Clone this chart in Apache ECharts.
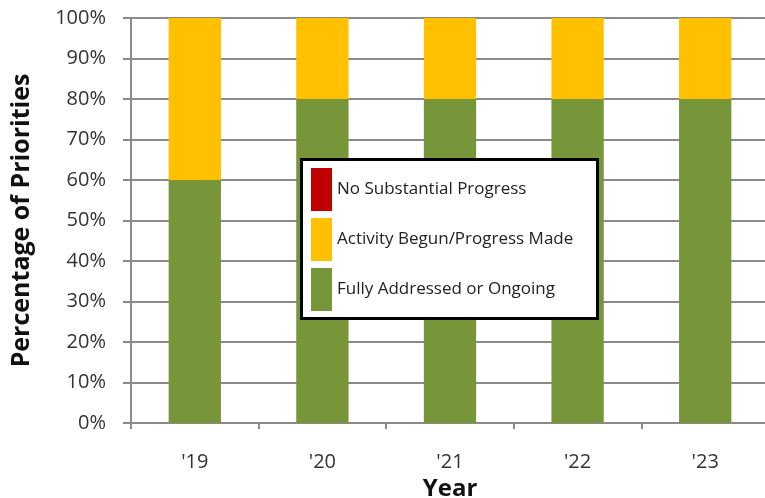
<!DOCTYPE html>
<html>
<head>
<meta charset="utf-8">
<script src="https://cdn.jsdelivr.net/npm/echarts@6/dist/echarts.min.js"></script>
<style>
  html, body { margin: 0; padding: 0; background: #fff; }
  #chart { width: 765px; height: 498px; }
</style>
</head>
<body>
<div id="chart"></div>
<script>
// Share of priorities by status for each year
const years = ["'19", "'20", "'21", "'22", "'23"];
const fullyAddressed = [60, 80, 80, 80, 80];
const activityBegun = [40, 20, 20, 20, 20];
const noProgress = [0, 0, 0, 0, 0];
const yTicks = [0, 10, 20, 30, 40, 50, 60, 70, 80, 90, 100];

const FONT = '"Open Sans", "Liberation Sans", sans-serif';
const chart = echarts.init(document.getElementById('chart'), null, { renderer: 'canvas' });

chart.setOption({
  animation: false,
  backgroundColor: '#ffffff',
  grid: {
    left: 131, right: -4, top: 18, bottom: 75,
    containLabel: false, outerBoundsMode: 'none'
  },
  graphic: [{
    type: 'rect',
    left: 300, top: 158,
    shape: { width: 296, height: 159 },
    style: { fill: '#ffffff', stroke: '#000000', lineWidth: 3 },
    z: 10
  }],
  legend: {
    orient: 'vertical',
    left: 306, top: 163,
    icon: 'rect',
    itemWidth: 21, itemHeight: 43, itemGap: 7,
    data: ['No Substantial Progress', 'Activity Begun/Progress Made', 'Fully Addressed or Ongoing'],
    textStyle: { fontFamily: FONT, fontSize: 17, color: '#222' },
    z: 20
  },
  xAxis: {
    type: 'category',
    data: years,
    name: 'Year',
    nameLocation: 'middle',
    nameGap: 47,
    nameTextStyle: { fontFamily: FONT, fontSize: 24, fontWeight: 'bold', color: '#111' },
    axisLine: { lineStyle: { color: '#8a8a8a', width: 2 } },
    axisTick: { show: true, length: 6, lineStyle: { color: '#8a8a8a', width: 2 } },
    axisLabel: { fontFamily: FONT, fontSize: 20, color: '#333', margin: 29 },
    splitLine: { show: false }
  },
  yAxis: {
    type: 'value',
    min: 0, max: 100, interval: 10,
    name: 'Percentage of Priorities',
    nameLocation: 'middle',
    nameGap: 97,
    nameTextStyle: { fontFamily: FONT, fontSize: 25, fontWeight: 'bold', color: '#111' },
    axisLine: { show: true, lineStyle: { color: '#8a8a8a', width: 2 } },
    axisTick: { show: true, length: 8, lineStyle: { color: '#8a8a8a', width: 2 } },
    axisLabel: {
      fontFamily: FONT, fontSize: 20, color: '#333', margin: 25,
      formatter: v => yTicks.includes(v) ? v + '%' : ''
    },
    splitLine: { show: true, lineStyle: { color: '#8a8a8a', width: 2 } }
  },
  series: [
    {
      name: 'Fully Addressed or Ongoing', type: 'bar', stack: 'status',
      data: fullyAddressed, barWidth: '41%',
      itemStyle: { color: '#77963a' }
    },
    {
      name: 'Activity Begun/Progress Made', type: 'bar', stack: 'status',
      data: activityBegun, barWidth: '41%',
      itemStyle: { color: '#ffc000' }
    },
    {
      name: 'No Substantial Progress', type: 'bar', stack: 'status',
      data: noProgress, barWidth: '41%',
      itemStyle: { color: '#c00000' }
    }
  ]
});
</script>
</body>
</html>
